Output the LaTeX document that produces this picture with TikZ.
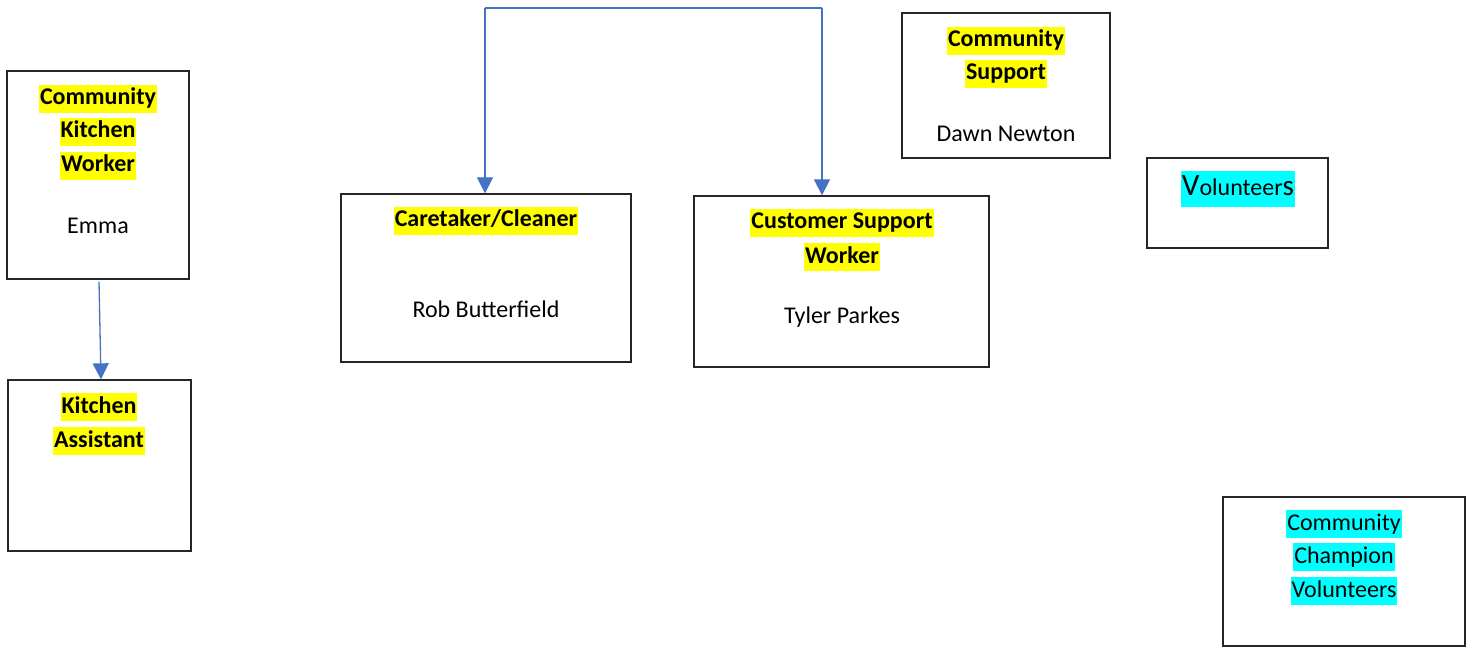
\documentclass[tikz,border=0pt]{standalone}
\usepackage{fontspec}
\setmainfont{Carlito}
\usetikzlibrary{arrows.meta}
\definecolor{hlyellow}{RGB}{255,255,0}
\definecolor{hlcyan}{RGB}{0,255,255}
\definecolor{linkblue}{RGB}{68,114,196}
\tikzset{
  box/.style={draw=black!85, line width=1.3pt, fill=white, inner sep=0pt},
  hl/.style={fill=hlyellow, inner xsep=1pt, inner ysep=0pt, text height=20pt, text depth=8pt, font=\fontsize{24}{28}\selectfont\bfseries},
  hlc/.style={fill=hlcyan, inner xsep=1pt, inner ysep=0pt, text height=20pt, text depth=8pt, font=\fontsize{24}{28}\selectfont},
  plain/.style={inner sep=0pt, font=\fontsize{24}{28}\selectfont},
  link/.style={draw=linkblue, line width=1.3pt},
  arr/.style={link, -{Triangle[width=16pt,length=16pt]}}
}
\begin{document}
\begin{tikzpicture}[x=1pt,y=-1pt]
\useasboundingbox (0,0) rectangle (1473,647);
% boxes
\node[box, minimum width=182pt, minimum height=208pt] (ckw) at (98,175) {};
\node[box, minimum width=183pt, minimum height=171pt] (ka) at (99.5,465.5) {};
\node[box, minimum width=290pt, minimum height=168pt] (care) at (486,278) {};
\node[box, minimum width=295pt, minimum height=171pt] (cust) at (841.5,281.5) {};
\node[box, minimum width=208pt, minimum height=145pt] (csup) at (1006,85.5) {};
\node[box, minimum width=181pt, minimum height=90pt] (vol) at (1237.5,203) {};
\node[box, minimum width=242pt, minimum height=149pt] (champ) at (1344,571.5) {};
% texts
\node[hl] (ckw1) at (98,99) {Community};
\node[hl] (ckw2) at (98,132) {Kitchen};
\node[hl] (ckw3) at (98,166) {Worker};
\node[plain] (ckw4) at (98,226) {Emma};
\node[hl] (ka1) at (99,407) {Kitchen};
\node[hl] (ka2) at (99,441) {Assistant};
\node[hl] (care1) at (486,221) {Caretaker/Cleaner};
\node[plain] (care2) at (486,309) {Rob Butterfield};
\node[hl] (cust1) at (842,223) {Customer Support};
\node[hl] (cust2) at (842,257) {Worker};
\node[plain] (cust3) at (842,317) {Tyler Parkes};
\node[hl] (csup1) at (1006,41) {Community};
\node[hl] (csup2) at (1006,74) {Support};
\node[plain] (csup3) at (1006,134) {Dawn Newton};
\node[hlc, text height=25pt, text depth=11pt] (vol1) at (1238,189) {{\fontsize{31}{31}\selectfont V}olunteer{\fontsize{29}{29}\selectfont s}};
\node[hlc] (champ1) at (1344,524) {Community};
\node[hlc] (champ2) at (1344,557) {Champion};
\node[hlc] (champ3) at (1344,591) {Volunteers};
% connectors
\coordinate (tl) at (485,8);
\coordinate (tr) at (822,8);
\draw[link] (tl) -- (tr);
\draw[arr] (tl) -- (care.north -| tl);
\draw[arr] (tr) -- (cust.north -| tr);
\draw[arr] ([xshift=1pt,yshift=-2pt]ckw.south) -- ([xshift=1.5pt]ka.north);
\end{tikzpicture}
\end{document}
